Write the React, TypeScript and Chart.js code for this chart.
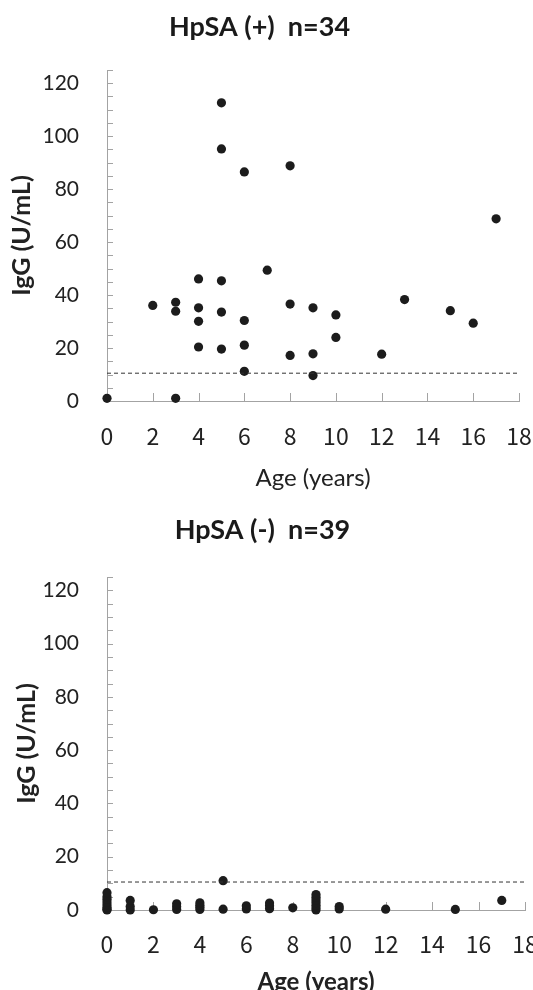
import { useEffect, useRef } from "react";
import { Chart, registerables } from "chart.js";

Chart.register(...registerables);

// ---- Data: HpSA (+) panel ----
const posTitle = "HpSA (+)  n=34";
const posAge = [0, 2, 3, 3, 3, 4, 4, 4, 4, 5, 5, 5, 5, 5, 6, 6, 6, 6, 7, 8, 8, 8, 9, 9, 9, 10, 10, 12, 13, 15, 16, 17];
const posIgG = [1.0, 36.1, 37.3, 33.9, 1.0, 46.1, 35.2, 30.1, 20.4, 112.6, 95.2, 45.4, 33.6, 19.6, 86.5, 30.4, 21.1, 11.2, 49.4, 88.8, 36.6, 17.2, 35.2, 17.8, 9.6, 32.5, 24.0, 17.7, 38.3, 34.1, 29.4, 68.8];

// ---- Data: HpSA (-) panel ----
const negTitle = "HpSA (-)  n=39";
const negAge = [0, 0, 0, 0, 0, 0, 0, 0, 1, 1, 1, 2, 3, 3, 3, 4, 4, 4, 4, 5, 5, 6, 6, 7, 7, 7, 8, 9, 9, 9, 9, 9, 9, 9, 10, 10, 12, 15, 17];
const negIgG = [0, 0.3, 1, 2, 3, 4, 5, 6.5, 0, 1.3, 3.6, 0.1, 0.2, 1.2, 2.3, 0.2, 1, 1.8, 2.7, 0.3, 11, 0.4, 1.6, 0.5, 1.6, 2.6, 0.8, 0, 0.8, 1.8, 2.8, 3.8, 4.8, 5.8, 0.4, 1.3, 0.3, 0.2, 3.6];

// ---- Cutoff line & axes ----
const cutoffX = [0, 18];
const cutoffY = [10.5, 10.5];
const xMin = 0, xMax = 18, xStep = 2;
const yMin = 0, yMax = 125, yStep = 5, yLabelStep = 20;
const xTitle = "Age (years)";
const yTitle = "IgG (U/mL)";

const axisColor = "#a3a3a3";
const textColor = "#222222";
const dotColor = "#1c1c1c";

const innerTicks = {
  id: "innerTicks",
  beforeDatasetsDraw(chart: any) {
    const { ctx, chartArea, scales } = chart;
    const x = scales.x, y = scales.y;
    ctx.save();
    ctx.strokeStyle = axisColor;
    ctx.lineWidth = 1;
    y.ticks.forEach((t: any) => {
      const py = Math.round(y.getPixelForValue(t.value)) + 0.5;
      ctx.beginPath();
      ctx.moveTo(chartArea.left, py);
      ctx.lineTo(chartArea.left + 6, py);
      ctx.stroke();
    });
    x.ticks.forEach((t: any) => {
      const px = Math.round(x.getPixelForValue(t.value)) + 0.5;
      ctx.beginPath();
      ctx.moveTo(px, chartArea.bottom);
      ctx.lineTo(px, chartArea.bottom - 8);
      ctx.stroke();
    });
    ctx.restore();
  },
};

function makeConfig(p: {
  title: string; ages: number[]; vals: number[];
  titleTop: number; titleBottom: number; yTitlePad: number;
  xTickPad: number; xTitlePadBottom: number; xHeight: number; xTitleWeight: string;
  padRight: number;
}) {
  const points = p.ages.map((a, i) => ({ x: a, y: p.vals[i] }));
  const cutoff = cutoffX.map((a, i) => ({ x: a, y: cutoffY[i] }));
  return {
    type: "scatter" as const,
    data: {
      datasets: [
        {
          type: "line" as const,
          data: cutoff,
          borderColor: "#333333",
          borderWidth: 1,
          borderDash: [4, 3],
          pointRadius: 0,
          fill: false,
        },
        {
          data: points,
          backgroundColor: dotColor,
          borderColor: dotColor,
          borderWidth: 0,
          pointRadius: 4.6,
          clip: false as any,
        },
      ],
    },
    options: {
      animation: false as const,
      responsive: false,
      layout: { padding: { left: 0, right: p.padRight, top: 0, bottom: 0 } },
      plugins: {
        legend: { display: false },
        tooltip: { enabled: false },
        title: {
          display: true,
          text: p.title,
          color: "#1a1a1a",
          font: { family: "Lato", size: 27, weight: "bold" as const },
          padding: { top: p.titleTop, bottom: p.titleBottom },
        },
      },
      scales: {
        x: {
          type: "linear" as const,
          min: xMin,
          max: xMax,
          grid: { display: false, drawTicks: false },
          border: { display: true, color: axisColor, width: 1 },
          ticks: {
            stepSize: xStep,
            autoSkip: false,
            maxRotation: 0,
            padding: p.xTickPad,
            color: textColor,
            font: { family: "Noto Sans CJK JP", size: 23 },
          },
          title: {
            display: true,
            text: xTitle,
            color: textColor,
            font: { family: "Lato", size: 24, weight: p.xTitleWeight as any },
            padding: { top: 0, bottom: p.xTitlePadBottom },
          },
          afterFit: (s: any) => {
            s.height = p.xHeight;
            s.paddingLeft = 0;
            s.paddingRight = 0;
          },
        },
        y: {
          type: "linear" as const,
          min: yMin,
          max: yMax,
          grid: { display: false, drawTicks: false },
          border: { display: true, color: axisColor, width: 1 },
          ticks: {
            stepSize: yStep,
            autoSkip: false,
            padding: 28,
            color: textColor,
            font: { family: "Lato", size: 21 },
            callback: (v: any) => (Number(v) % yLabelStep === 0 ? String(v) : ""),
          },
          title: {
            display: true,
            text: yTitle,
            color: textColor,
            font: { family: "Lato", size: 25, weight: "bold" as const },
            padding: { top: p.yTitlePad, bottom: 0 },
          },
          afterFit: (s: any) => {
            s.width = 107;
            s.paddingTop = 0;
            s.paddingBottom = 0;
          },
        },
      },
    },
    plugins: [innerTicks],
  };
}

export default function App() {
  const ref1 = useRef<HTMLCanvasElement | null>(null);
  const ref2 = useRef<HTMLCanvasElement | null>(null);

  useEffect(() => {
    document.body.style.margin = "0";
    const c1 = new Chart(ref1.current as HTMLCanvasElement, makeConfig({
      title: posTitle, ages: posAge, vals: posIgG,
      titleTop: 10.8, titleBottom: 26.8, yTitlePad: 7,
      xTickPad: 21.2, xTitlePadBottom: 2.6, xHeight: 94, xTitleWeight: "normal",
      padRight: 14,
    }) as any);
    const c2 = new Chart(ref2.current as HTMLCanvasElement, makeConfig({
      title: negTitle, ages: negAge, vals: negIgG,
      titleTop: 19.4, titleBottom: 30.2, yTitlePad: 12,
      xTickPad: 20.7, xTitlePadBottom: 3.0, xHeight: 90, xTitleWeight: "bold",
      padRight: 20,
    }) as any);
    return () => { c1.destroy(); c2.destroy(); };
  }, []);

  return (
    <div style={{ position: "absolute", left: 0, top: 0, width: 533, height: 990, overflow: "hidden", background: "#fff" }}>
      <canvas ref={ref1} width={533} height={495} style={{ display: "block", position: "absolute", left: 0, top: 0 }} />
      <canvas ref={ref2} width={545} height={505} style={{ display: "block", position: "absolute", left: 0, top: 495 }} />
    </div>
  );
}
